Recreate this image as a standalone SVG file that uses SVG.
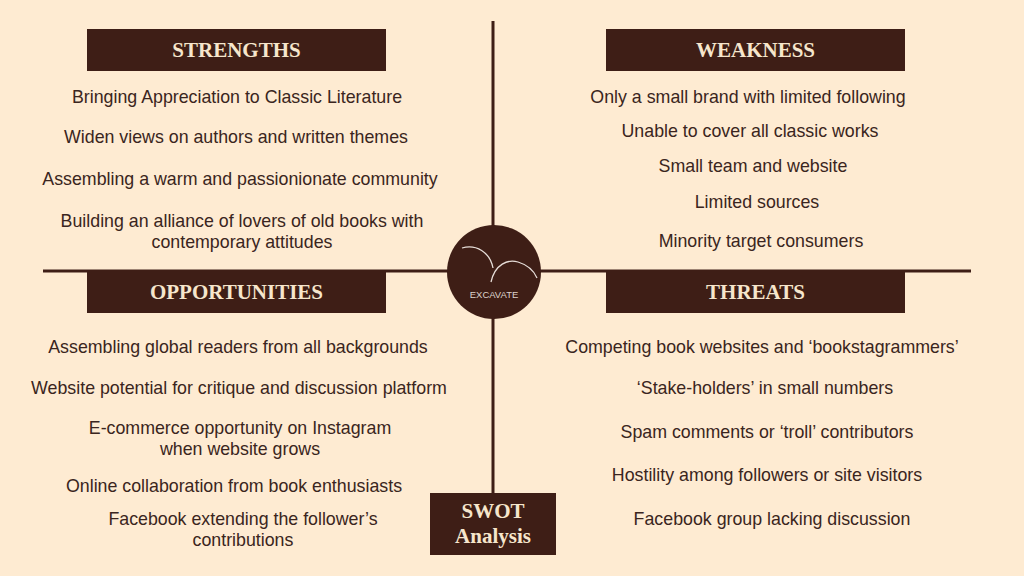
<svg xmlns="http://www.w3.org/2000/svg" width="1024" height="576" viewBox="0 0 1024 576">
<style>
.hbox{fill:#3E1E16}
.htxt{font-family:"Liberation Serif","Times New Roman",serif;font-weight:bold;font-size:21px;fill:#F6E6CC;text-anchor:middle}
.item{font-family:"Liberation Sans",Arial,sans-serif;font-size:17.8px;fill:#3A2520;text-anchor:middle}
.conn{stroke:#3E1E16;stroke-width:3;fill:none}
.arc{fill:none;stroke:#E6DDD8;stroke-width:1.3}
</style>
<rect x="0" y="0" width="1024" height="576" fill="#FEEBD2"/>
<g id="connectors">
<line class="conn" x1="43" y1="271" x2="971" y2="271"/>
<line class="conn" x1="493" y1="21" x2="493" y2="493"/>
</g>
<g id="strengths">
<rect class="hbox" x="87" y="29" width="299" height="42"/>
<text class="htxt" x="236.5" y="57">STRENGTHS</text>
<text class="item" x="237" y="103">Bringing Appreciation to Classic Literature</text>
<text class="item" x="236" y="143">Widen views on authors and written themes</text>
<text class="item" x="240" y="185">Assembling a warm and passionionate community</text>
<text class="item" x="242" y="227">Building an alliance of lovers of old books with</text>
<text class="item" x="242" y="248">contemporary attitudes</text>
</g>
<g id="weakness">
<rect class="hbox" x="606" y="29" width="299" height="42"/>
<text class="htxt" x="755.5" y="57">WEAKNESS</text>
<text class="item" x="748" y="103">Only a small brand with limited following</text>
<text class="item" x="750" y="137">Unable to cover all classic works</text>
<text class="item" x="753" y="172">Small team and website</text>
<text class="item" x="757" y="208">Limited sources</text>
<text class="item" x="761" y="247">Minority target consumers</text>
</g>
<g id="opportunities">
<rect class="hbox" x="87" y="271" width="299" height="42"/>
<text class="htxt" x="236.5" y="299">OPPORTUNITIES</text>
<text class="item" x="238" y="353">Assembling global readers from all backgrounds</text>
<text class="item" x="239" y="394">Website potential for critique and discussion platform</text>
<text class="item" x="240" y="434">E-commerce opportunity on Instagram</text>
<text class="item" x="240" y="455">when website grows</text>
<text class="item" x="234" y="492">Online collaboration from book enthusiasts</text>
<text class="item" x="243" y="525">Facebook extending the follower’s</text>
<text class="item" x="243" y="546">contributions</text>
</g>
<g id="threats">
<rect class="hbox" x="606" y="271" width="299" height="42"/>
<text class="htxt" x="755.5" y="299">THREATS</text>
<text class="item" x="762" y="353">Competing book websites and ‘bookstagrammers’</text>
<text class="item" x="765" y="394">‘Stake-holders’ in small numbers</text>
<text class="item" x="767" y="438">Spam comments or ‘troll’ contributors</text>
<text class="item" x="767" y="481">Hostility among followers or site visitors</text>
<text class="item" x="772" y="525">Facebook group lacking discussion</text>
</g>
<g id="logo">
<circle cx="494" cy="272" r="47" fill="#3E1E16"/>
<path class="arc" d="M462,248 C476,244 490,252 493,268"/>
<path class="arc" d="M491,282 C495,264 508,259 518,262 C528,265 534,271 537,278"/>
<text x="494" y="298" font-family="Liberation Sans,Arial,sans-serif" font-size="9.5" fill="#DCD2CC" text-anchor="middle">EXCAVATE</text>
</g>
<g id="swot">
<rect class="hbox" x="430" y="493" width="126" height="62"/>
<text class="htxt" x="493" y="518">SWOT</text>
<text class="htxt" x="493" y="543">Analysis</text>
</g>
</svg>
